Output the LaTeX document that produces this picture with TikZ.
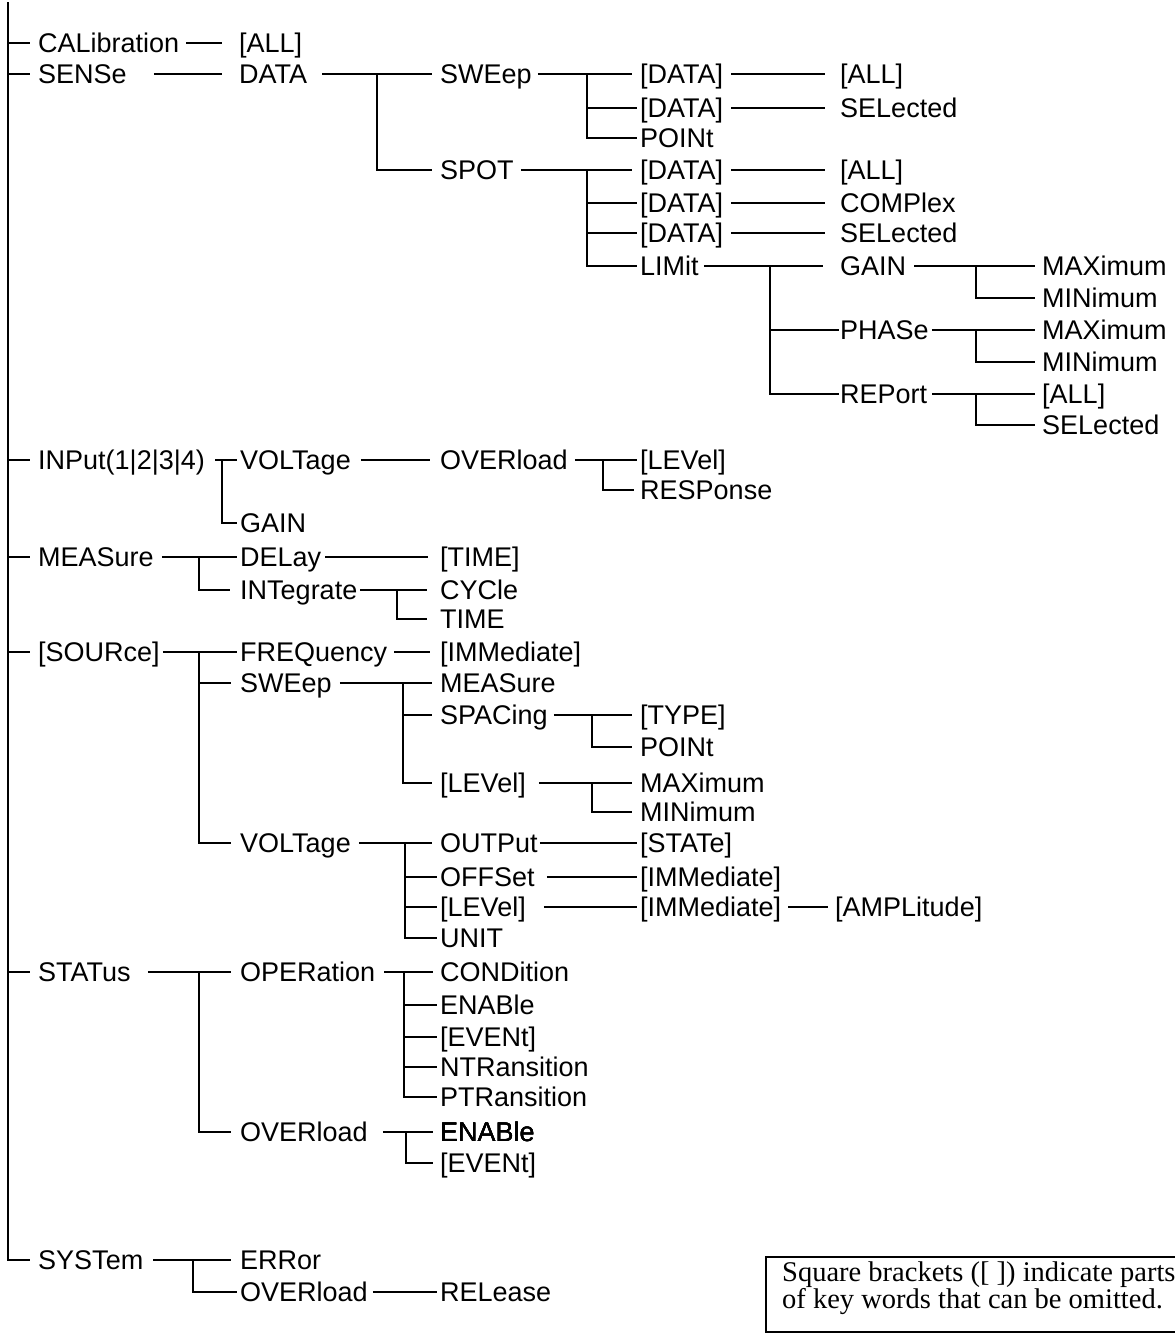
\documentclass[tikz,border=0pt]{standalone}
\usepackage{fontspec}
\setmainfont{Liberation Sans}
\newfontfamily\notefont{Liberation Serif}
\newcommand\kedge[4]{\draw[conn,shorten <=#3pt,shorten >=#4pt] (#1.east) -- (#2.west);}
\newcommand\kbranch[3]{\draw[conn,shorten >=#3pt] (#1) |- (#2.west);}
\begin{document}
\begin{tikzpicture}[x=1pt,y=-1pt,
  kw/.style={anchor=west, inner sep=0pt, text height=19.3pt, text depth=0pt, font=\fontsize{27}{32}\selectfont},
  conn/.style={line width=2pt},
  trunk/.style={line width=2.6pt},
  notebox/.style={draw, line width=1.5pt, anchor=north west, inner sep=0pt, minimum width=440pt, minimum height=75pt},
  notetext/.style={anchor=base west, inner sep=0pt, font=\notefont\fontsize{28.5}{27}\selectfont}]
\useasboundingbox (0,0) rectangle (1175,1333);
\clip (0,0) rectangle (1175,1333);

% level 1
\node[kw] (cal) at (38,43) {CALibration};
\node[kw] (sense) at (38,74) {SENSe};
\node[kw] (inp) at (38,460) {INPut(1|2|3|4)};
\node[kw] (meas) at (38,557) {MEASure};
\node[kw] (src) at (38,652) {[SOURce]};
\node[kw] (stat) at (38,972) {STATus};
\node[kw] (sys) at (38,1260) {SYSTem};

% trunk
\coordinate (top) at (8,2);
\draw[trunk, shorten >=8pt] (top) |- (sys.west);
\foreach \n in {cal,sense,inp,meas,src,stat}
  \draw[conn, shorten >=8pt] (top |- \n.west) -- (\n.west);

% CALibration
\node[kw] (calall) at (239,43) {[ALL]};
\kedge{cal}{calall}{7}{17}

% SENSe
\node[kw] (data) at (239,74) {DATA};
\kedge{sense}{data}{27}{17}
\node[kw] (sweep) at (440,74) {SWEep};
\node[kw] (spot) at (440,170) {SPOT};
\coordinate (bData) at (377,74);
\kedge{data}{sweep}{15}{8}
\kbranch{bData}{spot}{8}

\node[kw] (swd1) at (640,74) {[DATA]};
\node[kw] (swd2) at (640,108) {[DATA]};
\node[kw] (swpt) at (640,138) {POINt};
\coordinate (bSweep) at (587,74);
\kedge{sweep}{swd1}{6}{8}
\kbranch{bSweep}{swd2}{3}
\kbranch{bSweep}{swpt}{3}
\node[kw] (swall) at (840,74) {[ALL]};
\node[kw] (swsel) at (840,108) {SELected};
\kedge{swd1}{swall}{8}{15}
\kedge{swd2}{swsel}{8}{15}

\node[kw] (spd1) at (640,170) {[DATA]};
\node[kw] (spd2) at (640,203) {[DATA]};
\node[kw] (spd3) at (640,233) {[DATA]};
\node[kw] (lim) at (640,266) {LIMit};
\coordinate (bSpot) at (587,170);
\kedge{spot}{spd1}{7}{8}
\kbranch{bSpot}{spd2}{3}
\kbranch{bSpot}{spd3}{3}
\kbranch{bSpot}{lim}{3}
\node[kw] (spall) at (840,170) {[ALL]};
\node[kw] (spcx) at (840,203) {COMPlex};
\node[kw] (spsel) at (840,233) {SELected};
\kedge{spd1}{spall}{8}{15}
\kedge{spd2}{spcx}{8}{15}
\kedge{spd3}{spsel}{8}{15}

\node[kw] (gain) at (840,266) {GAIN};
\node[kw] (phase) at (840,330) {PHASe};
\node[kw] (report) at (840,394) {REPort};
\coordinate (bLim) at (770,266);
\kedge{lim}{gain}{5}{17}
\kbranch{bLim}{phase}{1}
\kbranch{bLim}{report}{1}

\node[kw] (gmax) at (1042,266) {MAXimum};
\node[kw] (gmin) at (1042,298) {MINimum};
\coordinate (bGain) at (976,266);
\kedge{gain}{gmax}{8}{7}
\kbranch{bGain}{gmin}{7}
\node[kw] (pmax) at (1042,330) {MAXimum};
\node[kw] (pmin) at (1042,362) {MINimum};
\coordinate (bPhase) at (976,330);
\kedge{phase}{pmax}{3}{7}
\kbranch{bPhase}{pmin}{7}
\node[kw] (rall) at (1042,394) {[ALL]};
\node[kw] (rsel) at (1042,425) {SELected};
\coordinate (bRep) at (976,394);
\kedge{report}{rall}{5}{7}
\kbranch{bRep}{rsel}{7}

% INPut
\node[kw] (ivolt) at (240,460) {VOLTage};
\node[kw] (igain) at (240,523) {GAIN};
\coordinate (bInp) at (222,460);
\kedge{inp}{ivolt}{10}{3}
\kbranch{bInp}{igain}{3}
\node[kw] (iover) at (440,460) {OVERload};
\kedge{ivolt}{iover}{10}{10}
\node[kw] (ilev) at (640,460) {[LEVel]};
\node[kw] (iresp) at (640,490) {RESPonse};
\coordinate (bIover) at (603,460);
\kedge{iover}{ilev}{7}{3}
\kbranch{bIover}{iresp}{6}

% MEASure
\node[kw] (delay) at (240,557) {DELay};
\node[kw] (integ) at (240,590) {INTegrate};
\coordinate (bMeas) at (199,557);
\kedge{meas}{delay}{8}{3}
\kbranch{bMeas}{integ}{10}
\node[kw] (mtime) at (440,557) {[TIME]};
\kedge{delay}{mtime}{4}{12}
\node[kw] (cycle) at (440,590) {CYCle};
\node[kw] (itime) at (440,619) {TIME};
\coordinate (bInteg) at (397,590);
\kedge{integ}{cycle}{3}{13}
\kbranch{bInteg}{itime}{13}

% [SOURce]
\node[kw] (freq) at (240,652) {FREQuency};
\node[kw] (ssweep) at (240,683) {SWEep};
\node[kw] (svolt) at (240,843) {VOLTage};
\coordinate (bSrc) at (199,652);
\kedge{src}{freq}{3}{3}
\kbranch{bSrc}{ssweep}{9}
\kbranch{bSrc}{svolt}{9}
\node[kw] (fimm) at (440,652) {[IMMediate]};
\kedge{freq}{fimm}{7}{10}

\node[kw] (smeas) at (440,683) {MEASure};
\node[kw] (sspac) at (440,715) {SPACing};
\node[kw] (slev) at (440,783) {[LEVel]};
\coordinate (bSsweep) at (403,683);
\kedge{ssweep}{smeas}{8}{8}
\kbranch{bSsweep}{sspac}{8}
\kbranch{bSsweep}{slev}{8}
\node[kw] (stype) at (640,715) {[TYPE]};
\node[kw] (spoint) at (640,747) {POINt};
\coordinate (bSpac) at (592,715);
\kedge{sspac}{stype}{6}{8}
\kbranch{bSpac}{spoint}{8}
\node[kw] (smax) at (640,783) {MAXimum};
\node[kw] (smin) at (640,812) {MINimum};
\coordinate (bSlev) at (592,783);
\kedge{slev}{smax}{13}{8}
\kbranch{bSlev}{smin}{8}

\node[kw] (vout) at (440,843) {OUTPut};
\node[kw] (voff) at (440,877) {OFFSet};
\node[kw] (vlev) at (440,907) {[LEVel]};
\node[kw] (vunit) at (440,938) {UNIT};
\coordinate (bSvolt) at (405,843);
\kedge{svolt}{vout}{8}{8}
\kbranch{bSvolt}{voff}{3}
\kbranch{bSvolt}{vlev}{3}
\kbranch{bSvolt}{vunit}{3}
\node[kw] (vstate) at (640,843) {[STATe]};
\node[kw] (voimm) at (640,877) {[IMMediate]};
\node[kw] (vlimm) at (640,907) {[IMMediate]};
\node[kw] (vamp) at (835,907) {[AMPLitude]};
\kedge{vout}{vstate}{2}{3}
\kedge{voff}{voimm}{12}{3}
\kedge{vlev}{vlimm}{18}{3}
\kedge{vlimm}{vamp}{7}{7}

% STATus
\node[kw] (oper) at (240,972) {OPERation};
\node[kw] (sover) at (240,1132) {OVERload};
\coordinate (bStat) at (199,972);
\kedge{stat}{oper}{17}{9}
\kbranch{bStat}{sover}{9}
\node[kw] (cond) at (440,972) {CONDition};
\node[kw] (oen) at (440,1005) {ENABle};
\node[kw] (oev) at (440,1037) {[EVENt]};
\node[kw] (ontr) at (440,1067) {NTRansition};
\node[kw] (optr) at (440,1097) {PTRansition};
\coordinate (bOper) at (404,972);
\kedge{oper}{cond}{9}{7}
\foreach \n in {oen,oev,ontr,optr} \kbranch{bOper}{\n}{3}
\node[kw] (sen) at (440,1132) {ENABle};
\node[kw] (sev) at (440,1163) {[EVENt]};
\coordinate (bSover) at (406,1132);
\kedge{sover}{sen}{15}{7}
\kbranch{bSover}{sev}{7}

% SYSTem
\node[kw] (err) at (240,1260) {ERRor};
\node[kw] (sysover) at (240,1292) {OVERload};
\coordinate (bSys) at (193,1260);
\kedge{sys}{err}{10}{9}
\kbranch{bSys}{sysover}{3}
\node[kw] (rel) at (440,1292) {RELease};
\kedge{sysover}{rel}{5}{3}

% note
\node[notebox] (note) at (765,1256) {};
\node[notetext] (note1) at (782,1281) {Square brackets ([ ]) indicate parts};
\node[notetext] (note2) at (782,1308) {of key words that can be omitted.};
\end{tikzpicture}
\end{document}
